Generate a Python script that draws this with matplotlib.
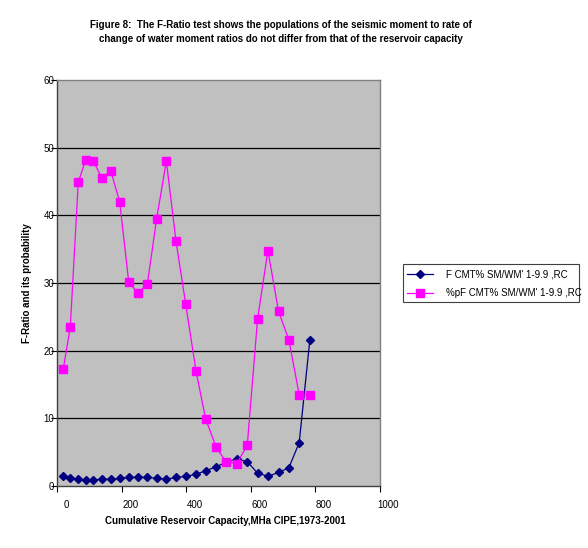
import matplotlib
matplotlib.use("Agg")
import matplotlib.pyplot as plt
import matplotlib.transforms as mtransforms
from matplotlib.patches import Rectangle

plt.rcParams['font.family'] = ['Liberation Sans', 'DejaVu Sans']

capacity = [19.5, 41.2, 66, 89, 112.6, 139.5, 166.5, 194.4, 222.3, 250.2, 280, 309, 339,
            369, 399, 431, 461, 494, 524, 557, 590, 622, 654, 687, 719, 751, 784]
f_ratio = [1.43, 1.23, 0.99, 0.93, 0.93, 0.99, 0.99, 1.13, 1.28, 1.28, 1.28, 1.13, 0.99,
           1.28, 1.43, 1.72, 2.26, 2.85, 3.5, 4.0, 3.6, 1.9, 1.43, 2.0, 2.7, 6.4, 21.6]
pf_ratio = [17.3, 23.5, 44.9, 48.2, 48.0, 45.5, 46.6, 42.0, 30.2, 28.5, 29.8, 39.5, 48.0,
            36.2, 26.9, 17.0, 9.9, 5.7, 3.6, 3.3, 6.0, 24.7, 34.8, 25.8, 21.6, 13.5, 13.5]
x_ticks = [0, 200, 400, 600, 800, 1000]
x_tick_labels = ['0', '200', '400', '600', '800', '1000']
y_ticks = [0, 10, 20, 30, 40, 50, 60]
series_names = ["F CMT% SM/WM' 1-9.9 ,RC", "%pF CMT% SM/WM' 1-9.9 ,RC"]

fig = plt.figure(figsize=(5.88, 5.48), dpi=100)
ax = fig.add_axes([57/588, 1-486/548, (379.5-57)/588, (486-80)/548])
ax.set_facecolor('#C0C0C0')

ax.plot(capacity, f_ratio, color='#000080', lw=0.9, marker='D', markersize=3.8,
        markerfacecolor='#000080', markeredgecolor='#000080', label=series_names[0], zorder=3)
ax.plot(capacity, pf_ratio, color='#FF00FF', lw=0.9, marker='s', markersize=5.2,
        markerfacecolor='#FF00FF', markeredgecolor='#FF00FF', label=series_names[1], zorder=4)

ax.set_xlim(0, 1000)
ax.set_ylim(0, 60)
ax.set_xticks(x_ticks)
ax.set_xticklabels(x_tick_labels)
ax.set_yticks(y_ticks)
for y in y_ticks[1:-1]:
    ax.axhline(y, color='black', lw=0.9, zorder=1)

for sp in ['top', 'right']:
    ax.spines[sp].set_color('#808080')
    ax.spines[sp].set_linewidth(1.0)
for sp in ['left', 'bottom']:
    ax.spines[sp].set_color('#404040')
    ax.spines[sp].set_linewidth(1.0)

ax.tick_params(axis='x', direction='out', length=4, width=0.8, pad=6, labelsize=7)
ax.tick_params(axis='y', direction='out', length=4, width=0.8, pad=-2, labelsize=7)
offset = mtransforms.ScaledTranslation(9/100, 0, fig.dpi_scale_trans)
for lbl in ax.get_xticklabels():
    lbl.set_transform(lbl.get_transform() + offset)

fig.text(281/588, 1-32/548,
         "Figure 8:  The F-Ratio test shows the populations of the seismic moment to rate of\n"
         "change of water moment ratios do not differ from that of the reservoir capacity",
         ha='center', va='center', fontsize=7, fontweight='bold', linespacing=1.45)
fig.text(225/588, 1-521/548, "Cumulative Reservoir Capacity,MHa CIPE,1973-2001",
         ha='center', va='center', fontsize=7, fontweight='bold')
fig.text(27/588, 1-283/548, "F-Ratio and its probability", rotation=90,
         ha='center', va='center', fontsize=7, fontweight='bold')

leg = fig.legend(loc='upper left', bbox_to_anchor=(404/588, 1-266/548), borderaxespad=0,
                 fontsize=7, frameon=False, handlelength=2.6,
                 handletextpad=1.35, borderpad=0.35, labelspacing=0.9)
fig.patches.append(Rectangle((403/588, 1-301.7/548), (579-403)/588, (301.7-264)/548,
                             transform=fig.transFigure, facecolor='white',
                             edgecolor='#404040', linewidth=0.8, zorder=0))

fig.savefig('out.png', dpi=100)
